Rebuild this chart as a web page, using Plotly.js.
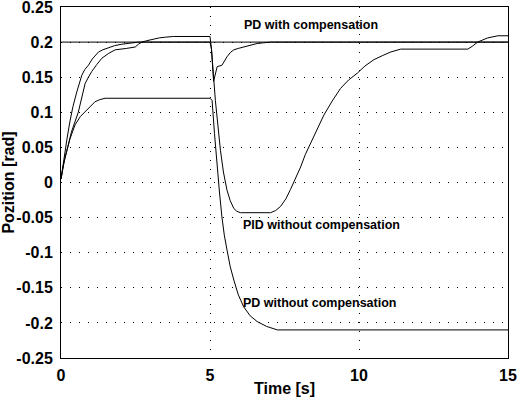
<!DOCTYPE html>
<html>
<head>
<meta charset="utf-8">
<script src="https://cdn.plot.ly/plotly-3.0.1.min.js"></script>
<style>html,body{margin:0;padding:0;background:#fff}#chart{width:517px;height:397px}</style>
</head>
<body>
<div id="chart"></div>
<script>
// Reference (set point)
const tRef = [0, 15];
const vRef = [0.2, 0.2];

// PD with compensation
const tPDcomp = [0, 0.05, 0.13, 0.2, 0.3, 0.4, 0.53, 0.62, 0.7, 0.8, 0.92, 1.05, 1.26, 1.4, 1.59, 1.8, 2.04, 2.3, 2.6, 5.0, 5.05, 5.12, 5.24, 5.4, 5.48, 5.57, 5.68, 5.8, 5.95, 6.13, 6.35, 6.58, 6.8, 7.03, 15];
const vPDcomp = [0.005, 0.02, 0.039, 0.062, 0.087, 0.108, 0.129, 0.143, 0.153, 0.161, 0.167, 0.176, 0.186, 0.189, 0.192, 0.195, 0.197, 0.198, 0.2, 0.2, 0.19, 0.144, 0.165, 0.167, 0.173, 0.179, 0.185, 0.189, 0.191, 0.193, 0.196, 0.198, 0.199, 0.2, 0.2];

// PID without compensation
const tPID = [0, 0.08, 0.19, 0.35, 0.58, 0.7, 0.81, 0.92, 1.03, 1.2, 1.37, 1.6, 1.82, 2.2, 2.49, 2.6, 2.71, 2.88, 3.05, 3.3, 3.5, 3.77, 5.0, 5.05, 5.18, 5.35, 5.45, 5.57, 5.68, 5.8, 5.9, 6.02, 7.03, 7.2, 7.37, 7.55, 7.7, 7.87, 8.04, 8.2, 8.38, 8.6, 8.82, 9.1, 9.38, 9.65, 9.95, 10.2, 10.5, 10.8, 11.07, 11.4, 13.65, 13.8, 13.98, 14.15, 14.32, 14.66, 15];
const vPID = [0.005, 0.025, 0.044, 0.072, 0.1, 0.123, 0.141, 0.15, 0.158, 0.168, 0.177, 0.184, 0.189, 0.191, 0.193, 0.197, 0.2, 0.202, 0.204, 0.206, 0.207, 0.208, 0.208, 0.19, 0.117, 0.046, 0.015, -0.011, -0.026, -0.037, -0.041, -0.043, -0.043, -0.04, -0.034, -0.023, -0.01, 0.006, 0.022, 0.04, 0.056, 0.078, 0.096, 0.116, 0.134, 0.146, 0.156, 0.166, 0.175, 0.181, 0.186, 0.19, 0.19, 0.194, 0.2, 0.203, 0.206, 0.209, 0.209];

// PD without compensation
const tPD = [0, 0.06, 0.13, 0.3, 0.47, 0.65, 0.81, 1.0, 1.14, 1.3, 1.48, 5.0, 5.07, 5.15, 5.24, 5.32, 5.4, 5.48, 5.57, 5.68, 5.8, 5.95, 6.13, 6.35, 6.58, 6.9, 7.26, 15];
const vPD = [0.005, 0.022, 0.035, 0.062, 0.082, 0.094, 0.101, 0.109, 0.115, 0.118, 0.12, 0.12, 0.117, 0.07, 0.022, -0.015, -0.049, -0.075, -0.096, -0.12, -0.139, -0.16, -0.177, -0.19, -0.198, -0.205, -0.21, -0.21];

// Axis ticks
const xTicks = [0, 5, 10, 15];
const yTicks = [-0.25, -0.2, -0.15, -0.1, -0.05, 0, 0.05, 0.1, 0.15, 0.2, 0.25];
const yTickText = ['-0.25', '-0.2', '-0.15', '-0.1', '-0.05', '0', '0.05', '0.1', '0.15', '0.2', '0.25'];

// Labels
const labels = ['PD with compensation', 'PID without compensation', 'PD without compensation'];
const labelX = [8.38, 8.75, 8.68];
const labelY = [0.224, -0.0605, -0.172];

const FONT = 'Arial, "Liberation Sans", sans-serif';
const line = {color: '#000', width: 1};

const traces = [
  {x: tRef, y: vRef, mode: 'lines', line: line, name: 'Reference'},
  {x: tPDcomp, y: vPDcomp, mode: 'lines', line: line, name: labels[0]},
  {x: tPID, y: vPID, mode: 'lines', line: line, name: labels[1]},
  {x: tPD, y: vPD, mode: 'lines', line: line, name: labels[2]}
];

const axisCommon = {
  showgrid: true, gridcolor: '#000', gridwidth: 1, griddash: '1px,8px',
  showline: true, mirror: true, linecolor: '#000', linewidth: 1,
  zeroline: false, ticks: '', ticklabeloverflow: 'allow',
  tickfont: {family: FONT, size: 16, color: '#000', weight: 'bold'}
};

const layout = {
  width: 517, height: 397,
  margin: {l: 61, r: 9, t: 7, b: 39},
  paper_bgcolor: '#fff', plot_bgcolor: '#fff',
  showlegend: false,
  xaxis: Object.assign({}, axisCommon, {
    range: [0, 15], tickvals: xTicks, ticktext: xTicks.map(String),
    ticklabelstandoff: 3,
    title: {text: 'Time [s]', font: {family: FONT, size: 16, color: '#000', weight: 'bold'}, standoff: 2}
  }),
  yaxis: Object.assign({}, axisCommon, {
    range: [-0.25, 0.25], tickvals: yTicks, ticktext: yTickText,
    ticklabelstandoff: 4,
    title: {text: 'Pozition [rad]', font: {family: FONT, size: 16, color: '#000', weight: 'bold'}, standoff: 4}
  }),
  annotations: labels.map((t, i) => ({
    x: labelX[i], y: labelY[i], xref: 'x', yref: 'y', text: t, showarrow: false,
    font: {family: FONT, size: 12.5, color: '#000', weight: 'bold'}
  }))
};

Plotly.newPlot('chart', traces, layout, {displayModeBar: false, staticPlot: true});
</script>
</body>
</html>
